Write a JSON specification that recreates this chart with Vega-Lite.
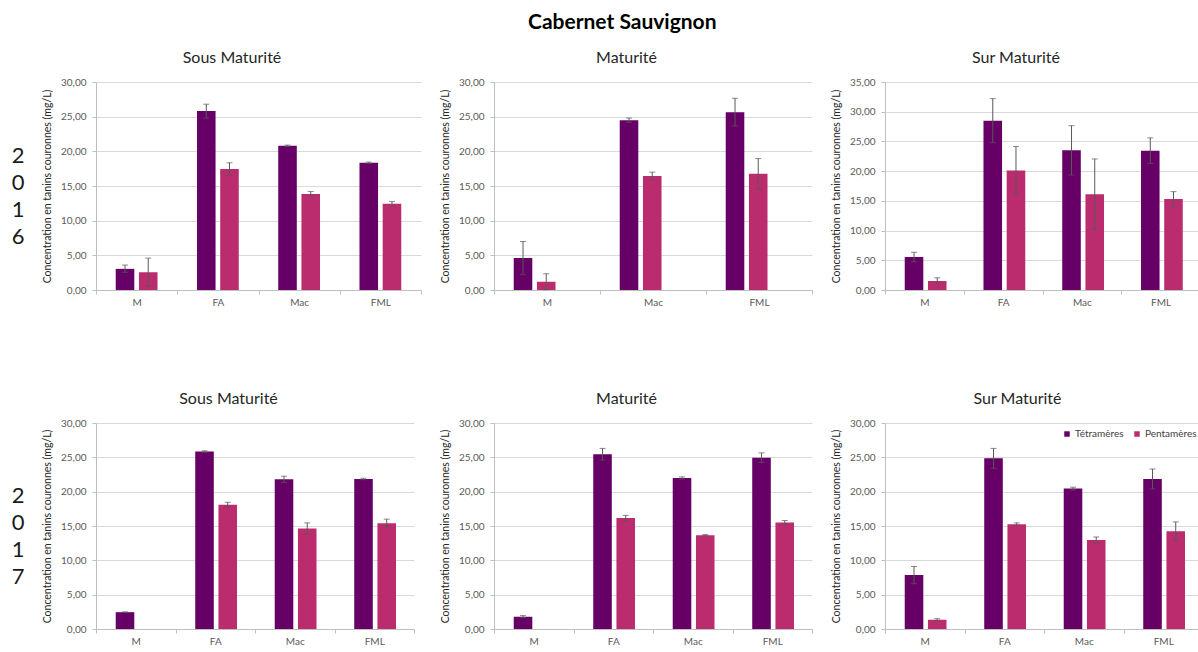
{
  "$schema": "https://vega.github.io/schema/vega-lite/v6.json",
  "padding": {"left": 6, "top": 12, "right": 0, "bottom": 0},
  "background": "white",
  "title": {"text": "Cabernet Sauvignon", "font": "Lato", "fontSize": 21, "fontWeight": "bold", "color": "#000000", "anchor": "start", "frame": "group", "dx": 522, "offset": 17},
  "datasets": {
    "tanins": [
      {"year": "2016", "stage": "Sous Maturité", "step": "M", "type": "Tétramères", "value": 3.05, "lo": 2.55, "hi": 3.6},
      {"year": "2016", "stage": "Sous Maturité", "step": "M", "type": "Pentamères", "value": 2.55, "lo": 0.55, "hi": 4.6},
      {"year": "2016", "stage": "Sous Maturité", "step": "FA", "type": "Tétramères", "value": 25.8, "lo": 24.8, "hi": 26.8},
      {"year": "2016", "stage": "Sous Maturité", "step": "FA", "type": "Pentamères", "value": 17.45, "lo": 16.6, "hi": 18.35},
      {"year": "2016", "stage": "Sous Maturité", "step": "Mac", "type": "Tétramères", "value": 20.8, "lo": 20.7, "hi": 20.9},
      {"year": "2016", "stage": "Sous Maturité", "step": "Mac", "type": "Pentamères", "value": 13.85, "lo": 13.5, "hi": 14.2},
      {"year": "2016", "stage": "Sous Maturité", "step": "FML", "type": "Tétramères", "value": 18.35, "lo": 18.25, "hi": 18.45},
      {"year": "2016", "stage": "Sous Maturité", "step": "FML", "type": "Pentamères", "value": 12.45, "lo": 12.15, "hi": 12.75},

      {"year": "2016", "stage": "Maturité", "step": "M", "type": "Tétramères", "value": 4.6, "lo": 2.2, "hi": 7.0},
      {"year": "2016", "stage": "Maturité", "step": "M", "type": "Pentamères", "value": 1.2, "lo": 0.05, "hi": 2.35},
      {"year": "2016", "stage": "Maturité", "step": "Mac", "type": "Tétramères", "value": 24.5, "lo": 24.2, "hi": 24.8},
      {"year": "2016", "stage": "Maturité", "step": "Mac", "type": "Pentamères", "value": 16.45, "lo": 15.9, "hi": 17.0},
      {"year": "2016", "stage": "Maturité", "step": "FML", "type": "Tétramères", "value": 25.65, "lo": 23.65, "hi": 27.65},
      {"year": "2016", "stage": "Maturité", "step": "FML", "type": "Pentamères", "value": 16.75, "lo": 14.55, "hi": 18.95},

      {"year": "2016", "stage": "Sur Maturité", "step": "M", "type": "Tétramères", "value": 5.55, "lo": 4.75, "hi": 6.35},
      {"year": "2016", "stage": "Sur Maturité", "step": "M", "type": "Pentamères", "value": 1.5, "lo": 0.95, "hi": 2.05},
      {"year": "2016", "stage": "Sur Maturité", "step": "FA", "type": "Tétramères", "value": 28.5, "lo": 24.8, "hi": 32.2},
      {"year": "2016", "stage": "Sur Maturité", "step": "FA", "type": "Pentamères", "value": 20.1, "lo": 16.1, "hi": 24.15},
      {"year": "2016", "stage": "Sur Maturité", "step": "Mac", "type": "Tétramères", "value": 23.5, "lo": 19.35, "hi": 27.65},
      {"year": "2016", "stage": "Sur Maturité", "step": "Mac", "type": "Pentamères", "value": 16.1, "lo": 10.2, "hi": 22.05},
      {"year": "2016", "stage": "Sur Maturité", "step": "FML", "type": "Tétramères", "value": 23.45, "lo": 21.3, "hi": 25.6},
      {"year": "2016", "stage": "Sur Maturité", "step": "FML", "type": "Pentamères", "value": 15.3, "lo": 14.05, "hi": 16.55},

      {"year": "2017", "stage": "Sous Maturité", "step": "M", "type": "Tétramères", "value": 2.45, "lo": 2.4, "hi": 2.5},
      {"year": "2017", "stage": "Sous Maturité", "step": "FA", "type": "Tétramères", "value": 25.85, "lo": 25.75, "hi": 25.95},
      {"year": "2017", "stage": "Sous Maturité", "step": "FA", "type": "Pentamères", "value": 18.1, "lo": 17.75, "hi": 18.45},
      {"year": "2017", "stage": "Sous Maturité", "step": "Mac", "type": "Tétramères", "value": 21.8, "lo": 21.35, "hi": 22.25},
      {"year": "2017", "stage": "Sous Maturité", "step": "Mac", "type": "Pentamères", "value": 14.65, "lo": 13.85, "hi": 15.45},
      {"year": "2017", "stage": "Sous Maturité", "step": "FML", "type": "Tétramères", "value": 21.85, "lo": 21.75, "hi": 21.95},
      {"year": "2017", "stage": "Sous Maturité", "step": "FML", "type": "Pentamères", "value": 15.4, "lo": 14.8, "hi": 16.0},

      {"year": "2017", "stage": "Maturité", "step": "M", "type": "Tétramères", "value": 1.8, "lo": 1.65, "hi": 1.95},
      {"year": "2017", "stage": "Maturité", "step": "FA", "type": "Tétramères", "value": 25.45, "lo": 24.6, "hi": 26.3},
      {"year": "2017", "stage": "Maturité", "step": "FA", "type": "Pentamères", "value": 16.15, "lo": 15.75, "hi": 16.55},
      {"year": "2017", "stage": "Maturité", "step": "Mac", "type": "Tétramères", "value": 22.0, "lo": 21.85, "hi": 22.15},
      {"year": "2017", "stage": "Maturité", "step": "Mac", "type": "Pentamères", "value": 13.65, "lo": 13.55, "hi": 13.75},
      {"year": "2017", "stage": "Maturité", "step": "FML", "type": "Tétramères", "value": 24.95, "lo": 24.25, "hi": 25.65},
      {"year": "2017", "stage": "Maturité", "step": "FML", "type": "Pentamères", "value": 15.5, "lo": 15.2, "hi": 15.8},

      {"year": "2017", "stage": "Sur Maturité", "step": "M", "type": "Tétramères", "value": 7.85, "lo": 6.6, "hi": 9.1},
      {"year": "2017", "stage": "Sur Maturité", "step": "M", "type": "Pentamères", "value": 1.35, "lo": 1.2, "hi": 1.5},
      {"year": "2017", "stage": "Sur Maturité", "step": "FA", "type": "Tétramères", "value": 24.85, "lo": 23.4, "hi": 26.3},
      {"year": "2017", "stage": "Sur Maturité", "step": "FA", "type": "Pentamères", "value": 15.25, "lo": 15.05, "hi": 15.45},
      {"year": "2017", "stage": "Sur Maturité", "step": "Mac", "type": "Tétramères", "value": 20.45, "lo": 20.25, "hi": 20.65},
      {"year": "2017", "stage": "Sur Maturité", "step": "Mac", "type": "Pentamères", "value": 12.95, "lo": 12.5, "hi": 13.4},
      {"year": "2017", "stage": "Sur Maturité", "step": "FML", "type": "Tétramères", "value": 21.85, "lo": 20.4, "hi": 23.3},
      {"year": "2017", "stage": "Sur Maturité", "step": "FML", "type": "Pentamères", "value": 14.25, "lo": 12.9, "hi": 15.6}
    ],
    "y2016": [{"label": ["2", "0", "1", "6"]}],
    "y2017": [{"label": ["2", "0", "1", "7"]}]
  },
  "bounds": "flush",
  "align": "none",
  "columns": 4,
  "spacing": {"row": 133, "column": 73},
  "resolve": {"scale": {"color": "independent"}, "legend": {"color": "independent"}},
  "concat": [
    {
      "width": 14, "height": 208,
      "data": {"name": "y2016"},
      "mark": {"type": "text", "font": "Lato", "fontSize": 22, "lineHeight": 27, "color": "#1a1a1a", "dy": -30, "dx": 5},
      "encoding": {"text": {"field": "label", "type": "nominal"}}
    },
    {
      "title": "Sous Maturité",
      "width": 325, "height": 208,
      "data": {"name": "tanins"},
      "transform": [{"filter": "datum.year == '2016' && datum.stage == 'Sous Maturité'"}],
      "encoding": {
        "x": {"field": "step", "type": "nominal", "sort": ["M", "FA", "Mac", "FML"], "scale": {"paddingInner": 0, "paddingOuter": 0}, "title": null},
        "xOffset": {"field": "type", "type": "nominal", "scale": {"domain": ["Tétramères", "Pentamères"], "paddingInner": 0.2, "paddingOuter": 0.85}}
      },
      "layer": [
        {"mark": {"type": "bar"}, "encoding": {
          "y": {"field": "value", "type": "quantitative", "scale": {"domain": [0, 30], "nice": false}, "axis": {"values": [0, 5, 10, 15, 20, 25, 30]}, "title": "Concentration en tanins couronnes (mg/L)"},
          "color": {"field": "type", "type": "nominal", "scale": {"domain": ["Tétramères", "Pentamères"], "range": ["#660066", "#BA2C6E"]}, "legend": null}}},
        {"mark": {"type": "rule", "color": "#595959", "strokeWidth": 1}, "encoding": {"y": {"field": "lo", "type": "quantitative", "axis": {"values": [0, 5, 10, 15, 20, 25, 30]}, "title": "Concentration en tanins couronnes (mg/L)"}, "y2": {"field": "hi"}}},
        {"mark": {"type": "tick", "color": "#595959", "size": 6, "thickness": 1}, "encoding": {"y": {"field": "lo", "type": "quantitative", "axis": {"values": [0, 5, 10, 15, 20, 25, 30]}, "title": "Concentration en tanins couronnes (mg/L)"}}},
        {"mark": {"type": "tick", "color": "#595959", "size": 6, "thickness": 1}, "encoding": {"y": {"field": "hi", "type": "quantitative", "axis": {"values": [0, 5, 10, 15, 20, 25, 30]}, "title": "Concentration en tanins couronnes (mg/L)"}}}
      ]
    },
    {
      "title": "Maturité",
      "width": 318, "height": 208,
      "data": {"name": "tanins"},
      "transform": [{"filter": "datum.year == '2016' && datum.stage == 'Maturité'"}],
      "encoding": {
        "x": {"field": "step", "type": "nominal", "sort": ["M", "FA", "Mac", "FML"], "scale": {"paddingInner": 0, "paddingOuter": 0}, "title": null},
        "xOffset": {"field": "type", "type": "nominal", "scale": {"domain": ["Tétramères", "Pentamères"], "paddingInner": 0.2, "paddingOuter": 0.85}}
      },
      "layer": [
        {"mark": {"type": "bar"}, "encoding": {
          "y": {"field": "value", "type": "quantitative", "scale": {"domain": [0, 30], "nice": false}, "axis": {"values": [0, 5, 10, 15, 20, 25, 30]}, "title": "Concentration en tanins couronnes (mg/L)"},
          "color": {"field": "type", "type": "nominal", "scale": {"domain": ["Tétramères", "Pentamères"], "range": ["#660066", "#BA2C6E"]}, "legend": null}}},
        {"mark": {"type": "rule", "color": "#595959", "strokeWidth": 1}, "encoding": {"y": {"field": "lo", "type": "quantitative", "axis": {"values": [0, 5, 10, 15, 20, 25, 30]}, "title": "Concentration en tanins couronnes (mg/L)"}, "y2": {"field": "hi"}}},
        {"mark": {"type": "tick", "color": "#595959", "size": 6, "thickness": 1}, "encoding": {"y": {"field": "lo", "type": "quantitative", "axis": {"values": [0, 5, 10, 15, 20, 25, 30]}, "title": "Concentration en tanins couronnes (mg/L)"}}},
        {"mark": {"type": "tick", "color": "#595959", "size": 6, "thickness": 1}, "encoding": {"y": {"field": "hi", "type": "quantitative", "axis": {"values": [0, 5, 10, 15, 20, 25, 30]}, "title": "Concentration en tanins couronnes (mg/L)"}}}
      ]
    },
    {
      "title": "Sur Maturité",
      "width": 315, "height": 208,
      "data": {"name": "tanins"},
      "transform": [{"filter": "datum.year == '2016' && datum.stage == 'Sur Maturité'"}],
      "encoding": {
        "x": {"field": "step", "type": "nominal", "sort": ["M", "FA", "Mac", "FML"], "scale": {"paddingInner": 0, "paddingOuter": 0}, "title": null},
        "xOffset": {"field": "type", "type": "nominal", "scale": {"domain": ["Tétramères", "Pentamères"], "paddingInner": 0.2, "paddingOuter": 0.85}}
      },
      "layer": [
        {"mark": {"type": "bar"}, "encoding": {
          "y": {"field": "value", "type": "quantitative", "scale": {"domain": [0, 35], "nice": false}, "axis": {"values": [0, 5, 10, 15, 20, 25, 30, 35]}, "title": "Concentration en tanins couronnes (mg/L)"},
          "color": {"field": "type", "type": "nominal", "scale": {"domain": ["Tétramères", "Pentamères"], "range": ["#660066", "#BA2C6E"]}, "legend": null}}},
        {"mark": {"type": "rule", "color": "#595959", "strokeWidth": 1}, "encoding": {"y": {"field": "lo", "type": "quantitative", "axis": {"values": [0, 5, 10, 15, 20, 25, 30, 35]}, "title": "Concentration en tanins couronnes (mg/L)"}, "y2": {"field": "hi"}}},
        {"mark": {"type": "tick", "color": "#595959", "size": 6, "thickness": 1}, "encoding": {"y": {"field": "lo", "type": "quantitative", "axis": {"values": [0, 5, 10, 15, 20, 25, 30, 35]}, "title": "Concentration en tanins couronnes (mg/L)"}}},
        {"mark": {"type": "tick", "color": "#595959", "size": 6, "thickness": 1}, "encoding": {"y": {"field": "hi", "type": "quantitative", "axis": {"values": [0, 5, 10, 15, 20, 25, 30, 35]}, "title": "Concentration en tanins couronnes (mg/L)"}}}
      ]
    },
    {
      "width": 17, "height": 206,
      "data": {"name": "y2017"},
      "mark": {"type": "text", "font": "Lato", "fontSize": 22, "lineHeight": 27, "color": "#1a1a1a", "dy": -30, "dx": 3.5},
      "encoding": {"text": {"field": "label", "type": "nominal"}}
    },
    {
      "title": "Sous Maturité",
      "width": 318, "height": 206,
      "data": {"name": "tanins"},
      "transform": [{"filter": "datum.year == '2017' && datum.stage == 'Sous Maturité'"}],
      "encoding": {
        "x": {"field": "step", "type": "nominal", "sort": ["M", "FA", "Mac", "FML"], "scale": {"paddingInner": 0, "paddingOuter": 0}, "title": null},
        "xOffset": {"field": "type", "type": "nominal", "scale": {"domain": ["Tétramères", "Pentamères"], "paddingInner": 0.2, "paddingOuter": 0.85}}
      },
      "layer": [
        {"mark": {"type": "bar"}, "encoding": {
          "y": {"field": "value", "type": "quantitative", "scale": {"domain": [0, 30], "nice": false}, "axis": {"values": [0, 5, 10, 15, 20, 25, 30]}, "title": "Concentration en tanins couronnes (mg/L)"},
          "color": {"field": "type", "type": "nominal", "scale": {"domain": ["Tétramères", "Pentamères"], "range": ["#660066", "#BA2C6E"]}, "legend": null}}},
        {"mark": {"type": "rule", "color": "#595959", "strokeWidth": 1}, "encoding": {"y": {"field": "lo", "type": "quantitative", "axis": {"values": [0, 5, 10, 15, 20, 25, 30]}, "title": "Concentration en tanins couronnes (mg/L)"}, "y2": {"field": "hi"}}},
        {"mark": {"type": "tick", "color": "#595959", "size": 6, "thickness": 1}, "encoding": {"y": {"field": "lo", "type": "quantitative", "axis": {"values": [0, 5, 10, 15, 20, 25, 30]}, "title": "Concentration en tanins couronnes (mg/L)"}}},
        {"mark": {"type": "tick", "color": "#595959", "size": 6, "thickness": 1}, "encoding": {"y": {"field": "hi", "type": "quantitative", "axis": {"values": [0, 5, 10, 15, 20, 25, 30]}, "title": "Concentration en tanins couronnes (mg/L)"}}}
      ]
    },
    {
      "title": "Maturité",
      "width": 318, "height": 206,
      "data": {"name": "tanins"},
      "transform": [{"filter": "datum.year == '2017' && datum.stage == 'Maturité'"}],
      "encoding": {
        "x": {"field": "step", "type": "nominal", "sort": ["M", "FA", "Mac", "FML"], "scale": {"paddingInner": 0, "paddingOuter": 0}, "title": null},
        "xOffset": {"field": "type", "type": "nominal", "scale": {"domain": ["Tétramères", "Pentamères"], "paddingInner": 0.2, "paddingOuter": 0.85}}
      },
      "layer": [
        {"mark": {"type": "bar"}, "encoding": {
          "y": {"field": "value", "type": "quantitative", "scale": {"domain": [0, 30], "nice": false}, "axis": {"values": [0, 5, 10, 15, 20, 25, 30]}, "title": "Concentration en tanins couronnes (mg/L)"},
          "color": {"field": "type", "type": "nominal", "scale": {"domain": ["Tétramères", "Pentamères"], "range": ["#660066", "#BA2C6E"]}, "legend": null}}},
        {"mark": {"type": "rule", "color": "#595959", "strokeWidth": 1}, "encoding": {"y": {"field": "lo", "type": "quantitative", "axis": {"values": [0, 5, 10, 15, 20, 25, 30]}, "title": "Concentration en tanins couronnes (mg/L)"}, "y2": {"field": "hi"}}},
        {"mark": {"type": "tick", "color": "#595959", "size": 6, "thickness": 1}, "encoding": {"y": {"field": "lo", "type": "quantitative", "axis": {"values": [0, 5, 10, 15, 20, 25, 30]}, "title": "Concentration en tanins couronnes (mg/L)"}}},
        {"mark": {"type": "tick", "color": "#595959", "size": 6, "thickness": 1}, "encoding": {"y": {"field": "hi", "type": "quantitative", "axis": {"values": [0, 5, 10, 15, 20, 25, 30]}, "title": "Concentration en tanins couronnes (mg/L)"}}}
      ]
    },
    {
      "title": "Sur Maturité",
      "width": 318, "height": 206,
      "data": {"name": "tanins"},
      "transform": [{"filter": "datum.year == '2017' && datum.stage == 'Sur Maturité'"}],
      "encoding": {
        "x": {"field": "step", "type": "nominal", "sort": ["M", "FA", "Mac", "FML"], "scale": {"paddingInner": 0, "paddingOuter": 0}, "title": null},
        "xOffset": {"field": "type", "type": "nominal", "scale": {"domain": ["Tétramères", "Pentamères"], "paddingInner": 0.2, "paddingOuter": 0.85}}
      },
      "layer": [
        {"mark": {"type": "bar"}, "encoding": {
          "y": {"field": "value", "type": "quantitative", "scale": {"domain": [0, 30], "nice": false}, "axis": {"values": [0, 5, 10, 15, 20, 25, 30]}, "title": "Concentration en tanins couronnes (mg/L)"},
          "color": {"field": "type", "type": "nominal", "scale": {"domain": ["Tétramères", "Pentamères"], "range": ["#660066", "#BA2C6E"]},
            "legend": {"orient": "top-right", "direction": "horizontal", "title": null, "symbolType": "square", "symbolSize": 30, "symbolStrokeWidth": 0, "labelFont": "Lato", "labelFontSize": 10, "labelColor": "#404040", "offset": 6, "columnPadding": 8, "labelOffset": 3}}}},
        {"mark": {"type": "rule", "color": "#595959", "strokeWidth": 1}, "encoding": {"y": {"field": "lo", "type": "quantitative", "axis": {"values": [0, 5, 10, 15, 20, 25, 30]}, "title": "Concentration en tanins couronnes (mg/L)"}, "y2": {"field": "hi"}}},
        {"mark": {"type": "tick", "color": "#595959", "size": 6, "thickness": 1}, "encoding": {"y": {"field": "lo", "type": "quantitative", "axis": {"values": [0, 5, 10, 15, 20, 25, 30]}, "title": "Concentration en tanins couronnes (mg/L)"}}},
        {"mark": {"type": "tick", "color": "#595959", "size": 6, "thickness": 1}, "encoding": {"y": {"field": "hi", "type": "quantitative", "axis": {"values": [0, 5, 10, 15, 20, 25, 30]}, "title": "Concentration en tanins couronnes (mg/L)"}}}
      ]
    }
  ],
  "config": {
    "font": "Lato",
    "view": {"stroke": null},
    "title": {"font": "Lato", "fontSize": 16, "fontWeight": "normal", "color": "#262626", "frame": "bounds", "anchor": "middle", "offset": 11},
    "axis": {"labelFont": "Lato", "titleFont": "Lato", "labelFontSize": 10, "labelColor": "#595959", "titleFontSize": 10.5, "titleFontWeight": "normal", "titleColor": "#262626", "domainColor": "#bfbfbf", "tickColor": "#bfbfbf", "gridColor": "#d9d9d9", "tickSize": 4},
    "axisX": {"grid": false, "labelAngle": 0, "tickBand": "extent", "labelPadding": 3},
    "axisY": {"grid": true, "labelPadding": 6, "titlePadding": 8, "labelExpr": "replace(format(datum.value, '.2f'), '.', ',')"}
  }
}
